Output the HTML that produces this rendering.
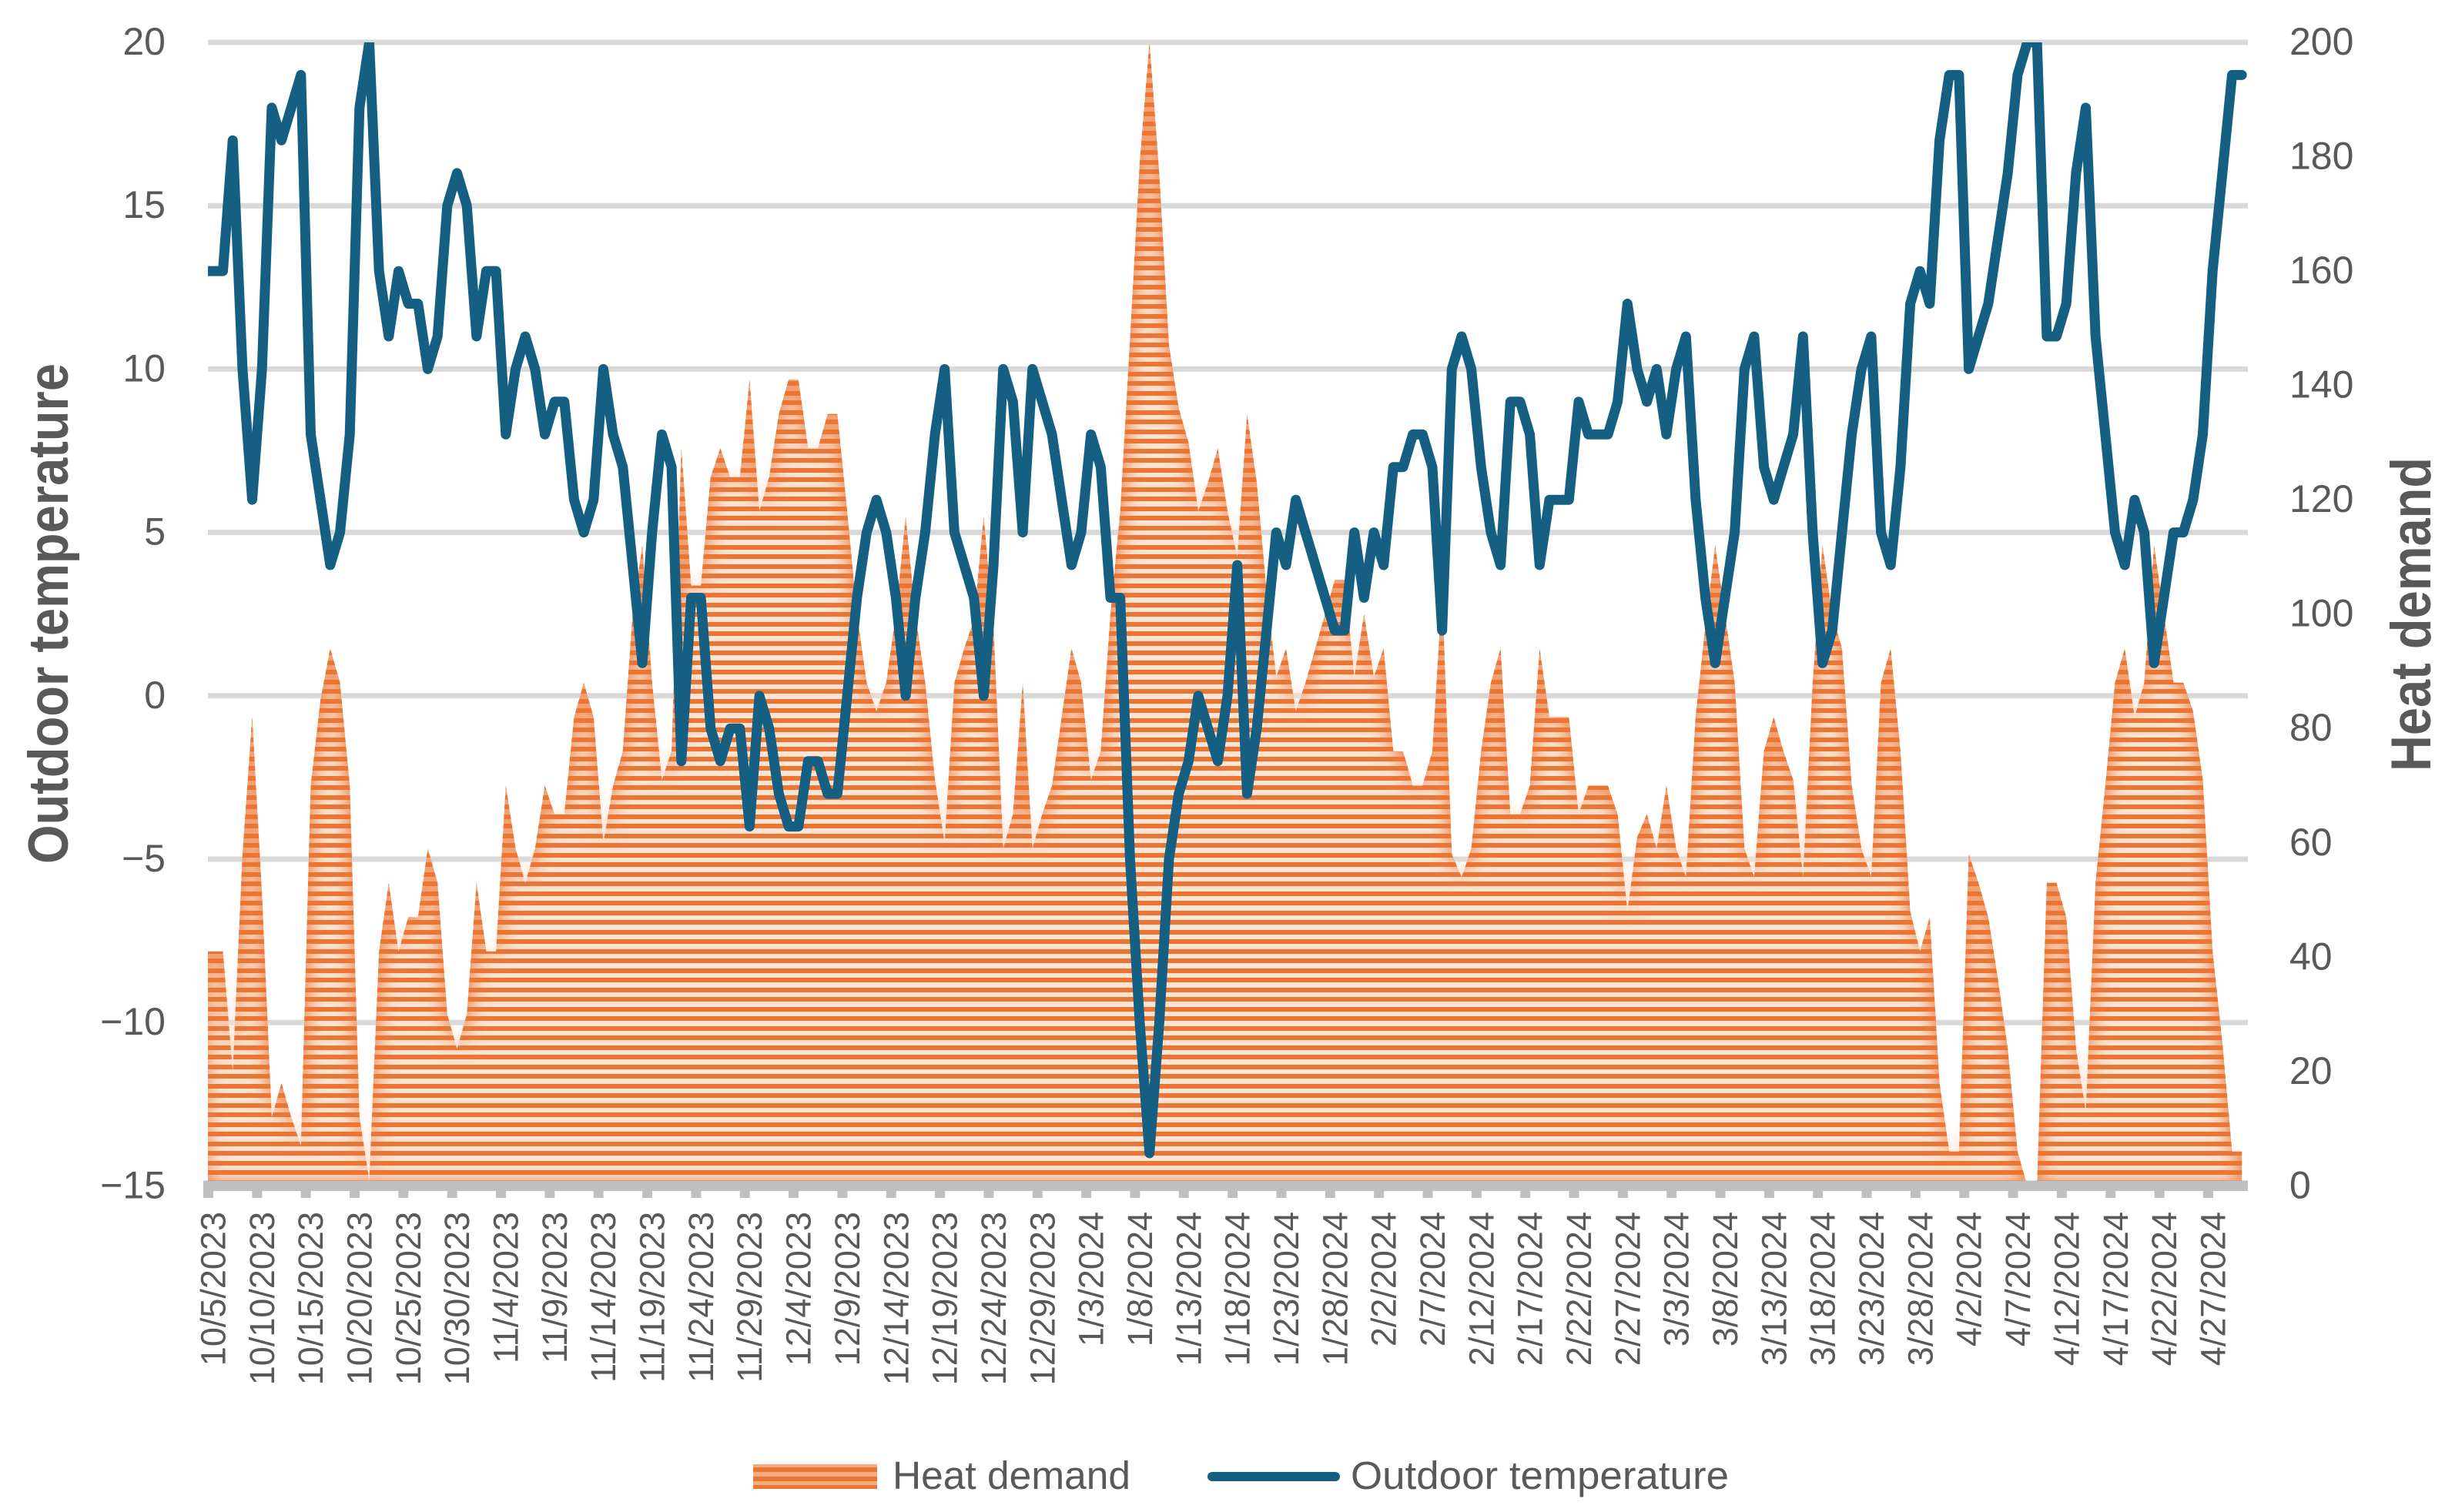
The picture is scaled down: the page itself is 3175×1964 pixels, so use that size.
<!DOCTYPE html>
<html lang="en">
<head>
<meta charset="utf-8">
<title>Heat demand and outdoor temperature</title>
<style>
html,body{margin:0;padding:0;background:#fff;width:3175px;height:1964px;overflow:hidden}
svg{display:block;font-family:"Liberation Sans",sans-serif}
</style>
</head>
<body>
<svg id="chart" xmlns="http://www.w3.org/2000/svg" width="3175" height="1964" viewBox="0 0 3175 1964">
  <defs>
    <clipPath id="plot-clip"><rect x="270" y="55" width="2700" height="1480"></rect></clipPath>
    <clipPath id="area-clip"><path id="area-clip-path"></path></clipPath>
    <filter id="soft" filterUnits="userSpaceOnUse" x="0" y="0" width="3175" height="1964" color-interpolation-filters="sRGB">
      <feGaussianBlur stdDeviation="14"></feGaussianBlur>
      <feComponentTransfer>
        <feFuncA type="linear" slope="2" intercept="-1"></feFuncA>
      </feComponentTransfer>
    </filter>
  </defs>
  <g id="grid"></g>
  <g clip-path="url(#plot-clip)">
    <path id="area-base" fill="#f0a073"></path>
    <path id="area-soft" fill="#fde3d4" filter="url(#soft)"></path>
    <g id="area-stripes" clip-path="url(#area-clip)"></g>
  </g>
  <g clip-path="url(#plot-clip)">
    <path id="temp-line" fill="none" stroke="#156082" stroke-width="13" stroke-linejoin="round" stroke-linecap="round"></path>
  </g>
  <g id="x-axis"></g>
  <g id="y-left" font-size="50" fill="#595959" text-anchor="end"></g>
  <g id="y-right" font-size="50" fill="#595959" text-anchor="start"></g>
  <text transform="translate(88,797) rotate(-90) scale(1,1.13)" text-anchor="middle" font-size="65" font-weight="bold" fill="#595959">Outdoor temperature</text>
  <text transform="translate(3156,798) rotate(-90) scale(1,1.13)" text-anchor="middle" font-size="65" font-weight="bold" fill="#595959">Heat demand</text>
  <g>
    <g>
      <rect x="978" y="1902" width="161" height="32" fill="#f3ab80"></rect>
      <rect x="978" y="1906" width="161" height="6" fill="#ec7532"></rect>
      <rect x="978" y="1918" width="161" height="6" fill="#ec7532"></rect>
      <rect x="978" y="1929" width="161" height="5" fill="#ec7532"></rect>
      <text x="1159" y="1934" font-size="51" fill="#595959" textLength="309" lengthAdjust="spacingAndGlyphs">Heat demand</text>
    </g>
    <g>
      <line x1="1574" y1="1918" x2="1734" y2="1918" stroke="#156082" stroke-width="12" stroke-linecap="round"></line>
      <text x="1754" y="1934" font-size="51" fill="#595959" textLength="491" lengthAdjust="spacingAndGlyphs">Outdoor temperature</text>
    </g>
  </g>
</svg>
<script>
const dateLabels = ["10/5/2023","10/10/2023","10/15/2023","10/20/2023","10/25/2023","10/30/2023","11/4/2023","11/9/2023","11/14/2023","11/19/2023","11/24/2023","11/29/2023","12/4/2023","12/9/2023","12/14/2023","12/19/2023","12/24/2023","12/29/2023","1/3/2024","1/8/2024","1/13/2024","1/18/2024","1/23/2024","1/28/2024","2/2/2024","2/7/2024","2/12/2024","2/17/2024","2/22/2024","2/27/2024","3/3/2024","3/8/2024","3/13/2024","3/18/2024","3/23/2024","3/28/2024","4/2/2024","4/7/2024","4/12/2024","4/17/2024","4/22/2024","4/27/2024"];
const tempTicks = [20,15,10,5,0,-5,-10,-15];
const heatTicks = [200,180,160,140,120,100,80,60,40,20,0];
const outdoorTemperature = [
13,13,13,17,10,6,10,18,17,18,
19,8,6,4,5,8,18,20,13,11,
13,12,12,10,11,15,16,15,11,13,
13,8,10,11,10,8,9,9,6,5,
6,10,8,7,4,1,5,8,7,-2,
3,3,-1,-2,-1,-1,-4,0,-1,-3,
-4,-4,-2,-2,-3,-3,0,3,5,6,
5,3,0,3,5,8,10,5,4,3,
0,4,10,9,5,10,9,8,6,4,
5,8,7,3,3,-5,-10,-14,-10,-5,
-3,-2,0,-1,-2,0,4,-3,-1,2,
5,4,6,5,4,3,2,2,5,3,
5,4,7,7,8,8,7,2,10,11,
10,7,5,4,9,9,8,4,6,6,
6,9,8,8,8,9,12,10,9,10,
8,10,11,6,3,1,3,5,10,11,
7,6,7,8,11,5,1,2,5,8,
10,11,5,4,7,12,13,12,17,19,
19,10,11,12,14,16,19,20,20,11,
11,12,16,18,11,8,5,4,6,5,
1,3,5,5,6,8,13,16,19,19];
const heatDemand = [
41,41,41,20,58,82,51,12,18,12,
7,70,85,94,88,70,12,1,41,53,
41,47,47,59,53,30,24,30,53,41,
41,70,59,53,59,70,65,65,82,88,
82,60,70,76,100,112,88,71,76,129,
105,105,124,129,124,124,141,118,124,135,
141,141,129,129,135,135,118,100,88,83,
88,100,117,100,88,71,60,88,94,99,
117,98,59,65,88,59,65,70,82,94,
88,71,76,100,118,148,179,200,177,147,
136,130,118,123,129,118,110,135,123,104,
89,94,83,88,94,100,106,106,89,100,
89,94,76,76,70,70,76,104,58,54,
59,76,88,94,65,65,70,94,82,82,
82,65,70,70,70,65,48,61,65,59,
70,59,54,82,98,112,100,88,59,54,
76,82,76,71,54,88,112,100,94,70,
59,54,88,94,76,48,41,47,18,6,
6,58,53,47,36,24,6,0,0,53,
53,47,24,13,53,70,88,94,82,88,
112,100,88,88,83,71,41,25,6,6];

const SVG_NS = "http://www.w3.org/2000/svg";
const TOP = 55, BOTTOM = 1540.4;
function xPoint(i){ return 264.2 + 12.665 * i; }
function xTick(k){ return 270.5 + 63.34 * k; }
function yTemp(v){ return BOTTOM - (v + 15) / 35 * (BOTTOM - TOP); }
function yHeat(v){ return BOTTOM - v / 200 * (BOTTOM - TOP); }
function make(tag, attrs, parent){
  const node = document.createElementNS(SVG_NS, tag);
  for (const key in attrs) node.setAttribute(key, attrs[key]);
  parent.appendChild(node);
  return node;
}
function fmt(v){ return v < 0 ? "\u2212" + Math.abs(v) : String(v); }

const gridGroup = document.getElementById("grid");
tempTicks.forEach(function(t){
  const gl = make("line", {x1:270, x2:2919, y1:yTemp(t), y2:yTemp(t), stroke:"#d9d9d9", "stroke-width":7}, gridGroup);
  
  
});

const areaPts = heatDemand.map(function(v,i){ return xPoint(i).toFixed(1) + "," + yHeat(v).toFixed(1); });
const areaPath = "M" + xPoint(0).toFixed(1) + "," + BOTTOM + " L" + areaPts.join(" L") + " L" + xPoint(heatDemand.length-1).toFixed(1) + "," + BOTTOM + " Z";
document.getElementById("area-base").setAttribute("d", areaPath);
document.getElementById("area-soft").setAttribute("d", areaPath);
document.getElementById("area-clip-path").setAttribute("d", areaPath);

const stripeGroup = document.getElementById("area-stripes");
for (let k = -1; k * 12.5 < 1480; k++) {
  const band = make("rect", {x:264, y:Math.round(1520 - k * 12.5), width:2660, height:6, fill:"#ec7532"}, stripeGroup);
  
  
}

const linePts = outdoorTemperature.map(function(v,i){ return xPoint(i).toFixed(1) + "," + yTemp(v).toFixed(1); });
document.getElementById("temp-line").setAttribute("d", "M" + linePts.join(" L"));

const xAxis = document.getElementById("x-axis");
const axisLine = make("rect", {x:264, y:1533.5, width:2655, height:13.5, fill:"#bfbfbf"}, xAxis);


dateLabels.forEach(function(label,k){
  const tx = xTick(k);
  const tick = make("rect", {x:tx-6.5, y:1547, width:13, height:9, fill:"#bfbfbf"}, xAxis);
  
  
  const txt = make("text", {transform:"translate(" + (tx+22) + ",1574) rotate(-90)", "text-anchor":"end", "font-size":45, fill:"#595959"}, xAxis);
  
  
  txt.textContent = label;
});

const yLeft = document.getElementById("y-left");
tempTicks.forEach(function(t){
  const txt = make("text", {x:215, y:yTemp(t)+16}, yLeft);
  
  
  txt.textContent = fmt(t);
});
const yRight = document.getElementById("y-right");
heatTicks.forEach(function(t){
  const txt = make("text", {x:2973, y:yHeat(t)+16}, yRight);
  
  
  txt.textContent = fmt(t);
});
</script>
</body>
</html>
